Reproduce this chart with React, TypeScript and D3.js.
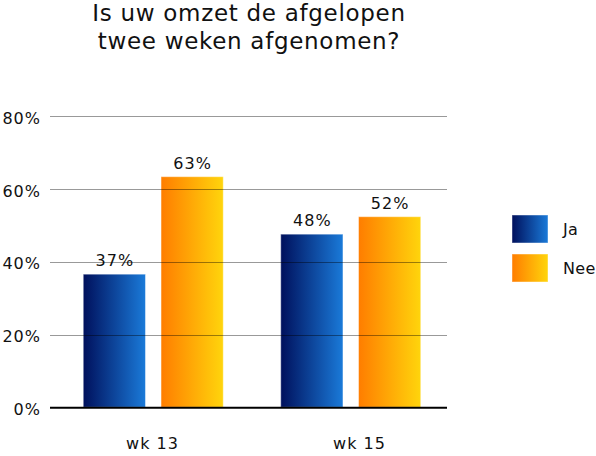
import { useEffect, useRef } from "react";
import * as d3 from "d3";

const categories = ["wk 13", "wk 15"];
const series = ["Ja", "Nee"];
const jaValues = [36.6, 47.6];
const neeValues = [63.4, 52.4];
const yTicks = [0, 20, 40, 60, 80];
const titleLines = ["Is uw omzet de afgelopen", "twee weken afgenomen?"];

const colors: Record<string, [string, string]> = {
  Ja: ["#00105c", "#1a7ad9"],
  Nee: ["#ff7d00", "#ffd50c"],
};

export default function App() {
  const svgRef = useRef<SVGSVGElement>(null);

  useEffect(() => {
    if (!svgRef.current) return;
    const width = 596;
    const height = 456;
    const left = 50;
    const right = 447;
    const font = "DejaVu Sans, Verdana, sans-serif";

    const svg = d3.select(svgRef.current);
    svg.selectAll("*").remove();

    // gradients
    const defs = svg.append("defs");
    series.forEach((s) => {
      const g = defs
        .append("linearGradient")
        .attr("id", `grad-${s}`)
        .attr("x1", "0%")
        .attr("x2", "100%")
        .attr("y1", "0%")
        .attr("y2", "0%");
      g.append("stop").attr("offset", "0%").attr("stop-color", colors[s][0]);
      g.append("stop").attr("offset", "100%").attr("stop-color", colors[s][1]);
    });

    const data = categories.map((c, i) => ({
      cat: c,
      values: [
        { key: "Ja", value: jaValues[i] },
        { key: "Nee", value: neeValues[i] },
      ],
    }));

    const x0 = d3
      .scaleBand()
      .domain(categories)
      .range([54.5, 449.5])
      .paddingInner(0.291)
      .paddingOuter(0.1455);
    const x1 = d3
      .scaleBand()
      .domain(series)
      .range([0, x0.bandwidth()])
      .paddingInner(0.2)
      .paddingOuter(0);
    const xLabel = d3.scalePoint().domain(categories).range([152.5, 359.5]);
    const y = d3.scaleLinear().domain([0, 80]).range([407.3, 116.3]);

    // title
    svg
      .append("g")
      .selectAll("text")
      .data(titleLines)
      .join("text")
      .attr("x", (left + right) / 2 + 0.5)
      .attr("y", (_, i) => 21 + i * 28)
      .attr("text-anchor", "middle")
      .attr("font-family", font)
      .attr("font-size", 23)
      .attr("letter-spacing", 0.7)
      .attr("fill", "#111")
      .text((d) => d);

    // bars
    const groups = svg
      .append("g")
      .selectAll("g")
      .data(data)
      .join("g")
      .attr("transform", (d) => `translate(${x0(d.cat)},0)`);

    groups
      .selectAll("rect")
      .data((d) => d.values)
      .join("rect")
      .attr("x", (d) => x1(d.key) || 0)
      .attr("y", (d) => y(d.value))
      .attr("width", x1.bandwidth())
      .attr("height", (d) => y(0) - y(d.value))
      .attr("fill", (d) => `url(#grad-${d.key})`)
      .attr("stroke", "#ffffff")
      .attr("stroke-opacity", 0.45)
      .attr("stroke-width", 1);

    groups
      .selectAll("text")
      .data((d) => d.values)
      .join("text")
      .attr("x", (d) => (x1(d.key) || 0) + x1.bandwidth() / 2 + 0.5)
      .attr("y", (d) => y(d.value) - 8)
      .attr("text-anchor", "middle")
      .attr("font-family", font)
      .attr("font-size", 16)
      .attr("letter-spacing", 1)
      .attr("fill", "#111")
      .text((d) => `${d3.format(".0f")(d.value)}%`);

    // gridlines over bars
    svg
      .append("g")
      .selectAll("line")
      .data(yTicks.filter((t) => t > 0))
      .join("line")
      .attr("x1", left)
      .attr("x2", right)
      .attr("y1", (d) => Math.round(y(d)) + 0.5)
      .attr("y2", (d) => Math.round(y(d)) + 0.5)
      .attr("stroke", "#000")
      .attr("stroke-opacity", 0.4)
      .attr("stroke-width", 1);

    // baseline
    svg
      .append("line")
      .attr("x1", left)
      .attr("x2", right)
      .attr("y1", y(0) + 0.5)
      .attr("y2", y(0) + 0.5)
      .attr("stroke", "#000")
      .attr("stroke-width", 2);

    // y tick labels
    svg
      .append("g")
      .selectAll("text")
      .data(yTicks)
      .join("text")
      .attr("x", 41)
      .attr("y", (d) => y(d) + 7.5)
      .attr("text-anchor", "end")
      .attr("font-family", font)
      .attr("font-size", 16)
      .attr("letter-spacing", 1)
      .attr("fill", "#111")
      .text((d) => `${d}%`);

    // x labels
    svg
      .append("g")
      .selectAll("text")
      .data(categories)
      .join("text")
      .attr("x", (d) => xLabel(d) || 0)
      .attr("y", 449)
      .attr("text-anchor", "middle")
      .attr("font-family", font)
      .attr("font-size", 16)
      .attr("letter-spacing", 1)
      .attr("fill", "#111")
      .text((d) => d);

    // legend
    const legend = svg
      .append("g")
      .selectAll("g")
      .data(series)
      .join("g")
      .attr("transform", (_, i) => `translate(512,${215 + i * 39})`);
    legend
      .append("rect")
      .attr("width", 36)
      .attr("height", 28)
      .attr("fill", (d) => `url(#grad-${d})`)
      .attr("stroke", "#ffffff")
      .attr("stroke-opacity", 0.45);
    legend
      .append("text")
      .attr("x", 51)
      .attr("y", 20)
      .attr("font-family", font)
      .attr("font-size", 16)
      .attr("letter-spacing", 0.4)
      .attr("fill", "#111")
      .text((d) => d);

    svg.attr("width", width).attr("height", height);
  }, []);

  return (
    <svg
      ref={svgRef}
      width={596}
      height={456}
      style={{ position: "absolute", left: 0, top: 0, background: "#fff" }}
    />
  );
}
